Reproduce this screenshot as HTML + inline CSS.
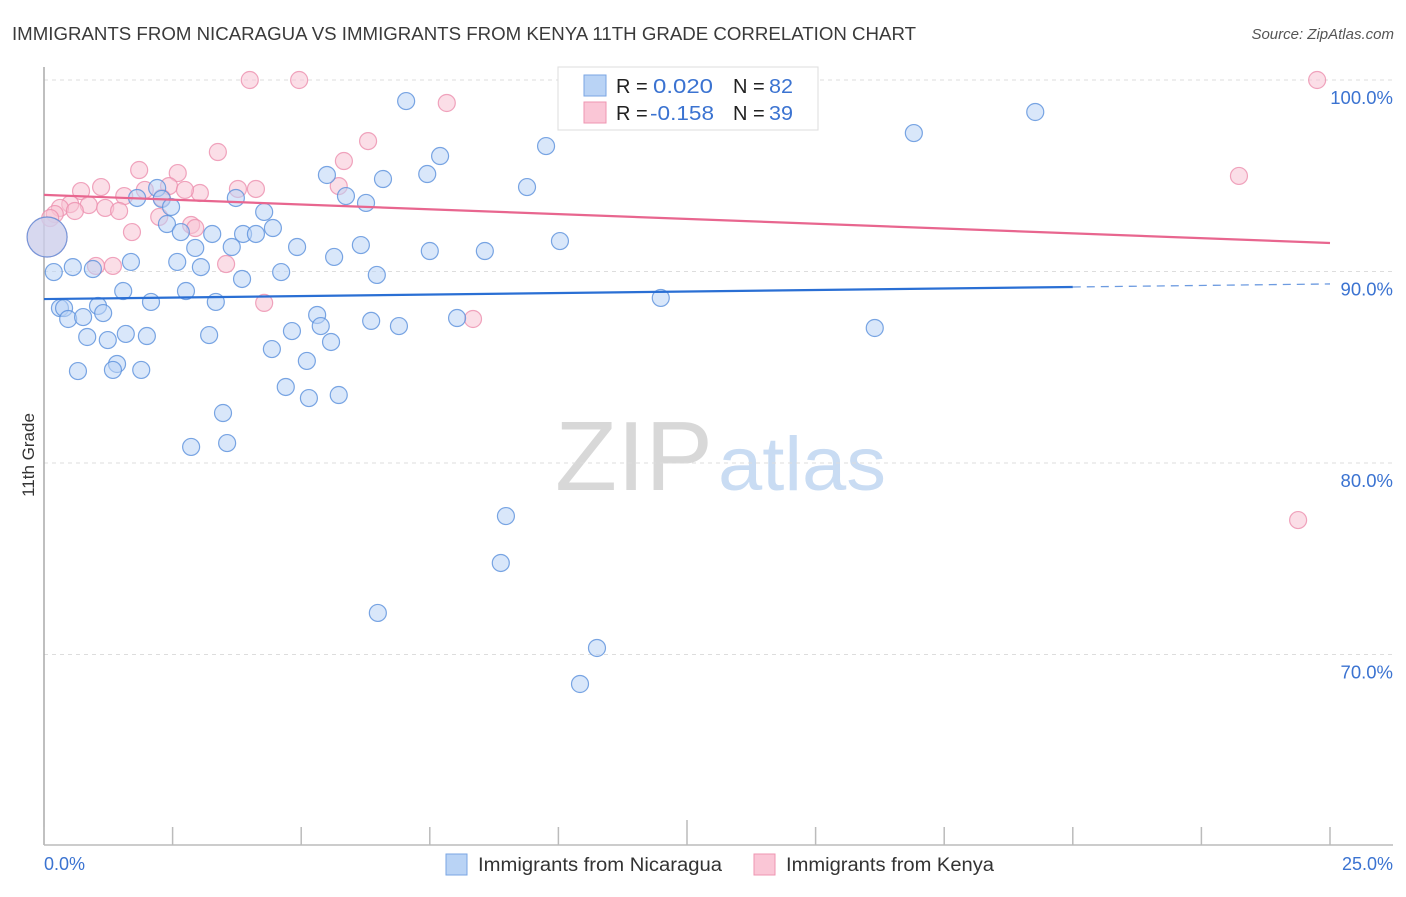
<!DOCTYPE html>
<html><head><meta charset="utf-8"><style>
body{margin:0;background:#fff;width:1406px;height:892px;overflow:hidden;font-family:"Liberation Sans",sans-serif}
svg text{font-family:"Liberation Sans",sans-serif}
</style></head><body>
<svg id="chart" width="1406" height="892" viewBox="0 0 1406 892" xmlns="http://www.w3.org/2000/svg">
<text x="12" y="40" font-size="18" fill="#3a3a3a" textLength="904" lengthAdjust="spacingAndGlyphs">IMMIGRANTS FROM NICARAGUA VS IMMIGRANTS FROM KENYA 11TH GRADE CORRELATION CHART</text>
<text x="1394" y="39" font-size="15" fill="#555" font-style="italic" text-anchor="end">Source: ZipAtlas.com</text>
<g>
<text x="634" y="490" font-size="98" fill="#d8d8d8" font-family="Liberation Serif" text-anchor="middle" textLength="158" lengthAdjust="spacingAndGlyphs">ZIP</text>
<text x="802" y="490" font-size="76" fill="#c9dcf3" text-anchor="middle" textLength="168" lengthAdjust="spacingAndGlyphs">atlas</text>
</g>
<g id="grid"></g>
<g id="axes"></g>
<g id="marks"></g>
<text transform="translate(34,455) rotate(-90)" font-size="17" fill="#333" text-anchor="middle">11th Grade</text>
<text x="44" y="870" font-size="18" fill="#3b73d1">0.0%</text>
<text x="1393" y="870" font-size="18" fill="#3b73d1" text-anchor="end">25.0%</text>
<g>
<rect x="558" y="67" width="260" height="63" fill="#fff" stroke="#ddd"/>
<rect x="584" y="75" width="22" height="21" fill="#b9d3f5" stroke="#7aa6e3"/>
<rect x="584" y="102" width="22" height="21" fill="#fac6d6" stroke="#ef95b1"/>
<text x="616" y="93" font-size="20" fill="#222">R =</text><text x="653" y="93" font-size="20" fill="#3b73d1" textLength="60" lengthAdjust="spacingAndGlyphs">0.020</text>
<text x="733" y="93" font-size="20" fill="#222">N =</text><text x="769" y="93" font-size="20" fill="#3b73d1" textLength="24" lengthAdjust="spacingAndGlyphs">82</text>
<text x="616" y="120" font-size="20" fill="#222">R =</text><text x="650" y="120" font-size="20" fill="#3b73d1" textLength="64" lengthAdjust="spacingAndGlyphs">-0.158</text>
<text x="733" y="120" font-size="20" fill="#222">N =</text><text x="769" y="120" font-size="20" fill="#3b73d1" textLength="24" lengthAdjust="spacingAndGlyphs">39</text>
</g>
<g>
<rect x="446" y="854" width="21" height="21" fill="#b9d3f5" stroke="#7aa6e3"/>
<text x="478" y="871" font-size="19" fill="#333" textLength="244" lengthAdjust="spacingAndGlyphs">Immigrants from Nicaragua</text>
<rect x="754" y="854" width="21" height="21" fill="#fac6d6" stroke="#ef95b1"/>
<text x="786" y="871" font-size="19" fill="#333" textLength="208" lengthAdjust="spacingAndGlyphs">Immigrants from Kenya</text>
</g>
</svg>
<script>
const yTicks=[100,90,80,70];
const yTickLabels=["100.0%","90.0%","80.0%","70.0%"];
const xTicks=[0,2.5,5,7.5,10,12.5,15,17.5,20,22.5,25];
const nicX=[7.04,19.27,16.91,9.76,7.70,5.50,7.45,6.59,9.39,2.20,5.87,1.81,3.73,2.29,6.26,2.47,4.28,2.39,4.45,2.66,3.27,3.87,4.12,10.03,6.16,2.94,3.65,4.92,7.50,8.57,5.64,1.69,2.59,3.05,0.56,0.95,0.19,4.61,6.47,3.85,1.54,2.76,2.08,3.34,11.99,1.05,0.31,0.39,1.15,5.31,0.47,0.76,5.38,8.03,6.36,6.90,16.15,4.82,3.21,1.59,2.00,0.84,1.24,5.58,4.43,5.11,1.42,0.66,1.34,1.89,4.70,5.73,5.15,3.48,2.86,3.56,8.98,8.88,6.49,10.75,10.42,0.06];
const nicY=[98.9,98.33,97.23,96.55,96.03,95.04,95.09,94.83,94.41,94.36,93.94,93.84,93.84,93.79,93.58,93.37,93.11,92.48,92.27,92.06,91.96,91.96,91.96,91.59,91.38,91.23,91.28,91.28,91.07,91.07,90.76,90.5,90.5,90.23,90.23,90.13,89.97,89.97,89.82,89.61,88.98,88.98,88.41,88.41,88.62,88.2,88.09,88.09,87.83,87.73,87.52,87.62,87.15,87.57,87.42,87.15,87.05,86.89,86.68,86.74,86.63,86.58,86.42,86.32,85.95,85.33,85.17,84.8,84.86,84.86,83.97,83.55,83.39,82.61,80.84,81.04,77.23,74.78,72.17,70.34,68.46,91.8];
const kenX=[4.00,4.96,24.75,7.83,6.30,3.38,1.85,2.60,5.83,23.23,1.11,0.72,2.43,3.77,4.12,3.03,5.73,1.56,1.96,2.74,0.51,0.87,2.29,0.31,1.19,1.46,0.60,0.21,0.12,2.24,2.86,2.94,1.71,1.01,1.34,3.54,4.28,8.34,24.38,0.06];
const kenY=[100,100,100,98.8,96.81,96.24,95.3,95.14,95.77,94.99,94.41,94.2,94.46,94.31,94.31,94.1,94.46,93.94,94.26,94.26,93.52,93.47,93.84,93.32,93.32,93.16,93.16,93.0,92.79,92.85,92.43,92.27,92.06,90.29,90.29,90.39,88.36,87.52,77.02,91.8];
const nicBig=[81];
const kenBig=[39];
const nicTrend=[88.56,89.35];
const kenTrend=[94.0,91.49];
const nicSolidEnd=20;

const NS="http://www.w3.org/2000/svg";
const X0=44,X1=1330,Y100=80,PX10=191.5;
function sx(v){return X0+(v/25)*(X1-X0);}
function sy(v){return Y100+(100-v)/10*PX10;}
function mk(tag,attrs,parent){const e=document.createElementNS(NS,tag);for(const k in attrs)e.setAttribute(k,attrs[k]);parent.appendChild(e);return e;}
const grid=document.getElementById('grid'),axes=document.getElementById('axes'),marks=document.getElementById('marks');
yTicks.forEach((t,i)=>{
  const l=mk('line',{x1:X0,x2:1393,y1:sy(t),y2:sy(t),stroke:'#ddd','stroke-dasharray':'4,4'},grid);
  
  
  const tx=mk('text',{x:1393,y:sy(t)+24,'font-size':18.5,fill:'#3b73d1','text-anchor':'end'},grid);
  tx.textContent=yTickLabels[i];
  
  
});
const ya=mk('line',{x1:X0,x2:X0,y1:67,y2:845,stroke:'#aaa','stroke-width':1.5},axes);


const xa=mk('line',{x1:X0,x2:1393,y1:845,y2:845,stroke:'#bbb','stroke-width':1.5},axes);


xTicks.forEach((t,i)=>{
  const tk=mk('line',{x1:sx(t),x2:sx(t),y1:(i===5?820:827),y2:845,stroke:'#bbb','stroke-width':1.5},axes);
  
  
});
function dots(xs,ys,big,fill,stroke,name){
  xs.forEach((x,i)=>{
    const r=big.includes(i)?20:8.5;
    const c=mk('circle',{cx:sx(x),cy:sy(ys[i]),r:r,fill:fill,'fill-opacity':0.55,stroke:stroke,'stroke-width':1.2,'stroke-opacity':0.8},marks);
    
    
  });
}
dots(kenX,kenY,kenBig,'#f8c3d3','#ec8fae','kenya-point');
dots(nicX,nicY,nicBig,'#b9d3f5','#5a90dc','nicaragua-point');
function lineAt(tr,v){return tr[0]+(tr[1]-tr[0])*v/25;}
const kt=mk('line',{x1:sx(0),y1:sy(kenTrend[0]),x2:sx(25),y2:sy(kenTrend[1]),stroke:'#e8668f','stroke-width':2.2},marks);


const nt=mk('line',{x1:sx(0),y1:sy(nicTrend[0]),x2:sx(nicSolidEnd),y2:sy(lineAt(nicTrend,nicSolidEnd)),stroke:'#2a6fd4','stroke-width':2.2},marks);


const nd=mk('line',{x1:sx(nicSolidEnd),y1:sy(lineAt(nicTrend,nicSolidEnd)),x2:sx(25),y2:sy(nicTrend[1]),stroke:'#6d9be0','stroke-width':1.3,'stroke-dasharray':'8,6'},marks);


</script>
</body></html>
